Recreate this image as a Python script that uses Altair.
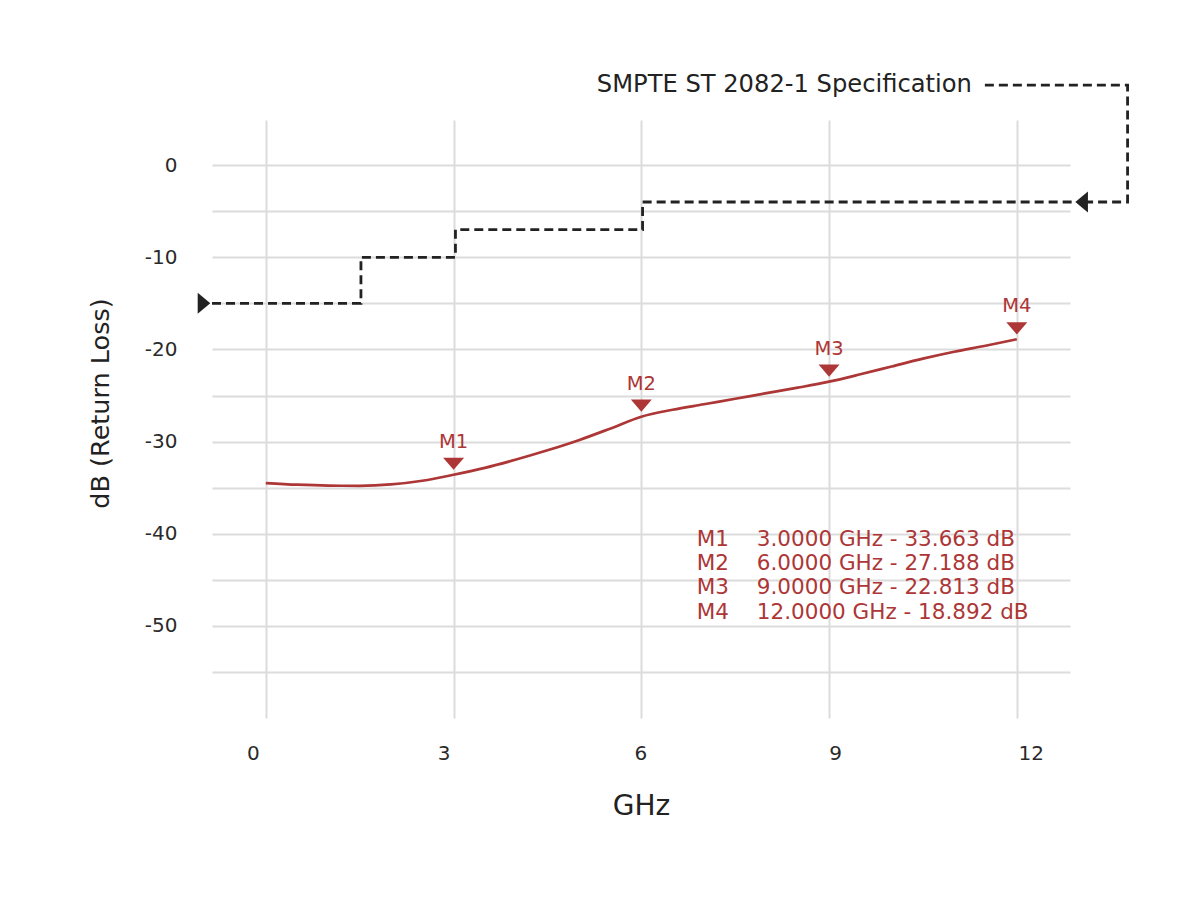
import altair as alt
import pandas as pd

RED = "#ad3636"
DARK = "#222222"

# measured return loss curve
freq_ghz = [0, 0.5, 1.0, 1.5, 2.0, 2.5, 3.0, 3.5, 4.0, 4.5, 5.0, 5.5, 6.0,
            6.5, 7.0, 7.5, 8.0, 8.5, 9.0, 9.5, 10.0, 10.5, 11.0, 11.5, 12.0]
loss_db = [-34.5, -34.68, -34.78, -34.8, -34.65, -34.25, -33.6, -32.85, -31.95,
           -30.95, -29.85, -28.6, -27.3, -26.55, -25.95, -25.35, -24.75, -24.15,
           -23.5, -22.7, -21.85, -21.0, -20.25, -19.6, -18.9]

# SMPTE ST 2082-1 mask (step-after)
spec_ghz = [-0.86, 1.52, 3.03, 6.02, 12.94]
spec_db = [-15, -10, -7, -4, -4]

# markers
marker_names = ["M1", "M2", "M3", "M4"]
marker_ghz = [3.0, 6.0, 9.0, 12.0]
marker_db = [-33.663, -27.188, -22.813, -18.892]

# callout from the label to the end of the mask
callout_ghz = [11.49, 13.77, 13.77, 13.0]
callout_db = [8.68, 8.68, -4.0, -4.0]
callout_text = "SMPTE ST 2082-1 Specification"

curve_df = pd.DataFrame({"ghz": freq_ghz, "db": loss_db})
spec_df = pd.DataFrame({"ghz": spec_ghz, "db": spec_db})
on_curve = dict(zip(freq_ghz, loss_db))
marker_df = pd.DataFrame({
    "name": marker_names,
    "ghz": marker_ghz,
    "db": [on_curve[f] for f in marker_ghz],
})
callout_df = pd.DataFrame({"ghz": callout_ghz, "db": callout_db, "i": range(len(callout_ghz))})

# the original x labels drift a little from their gridlines
x_label_shift = {
    "condition": [
        {"test": "datum.value == 0", "value": -13},
        {"test": "datum.value == 3", "value": -10},
        {"test": "datum.value == 6", "value": -1},
        {"test": "datum.value == 9", "value": 6},
        {"test": "datum.value == 12", "value": 14},
    ],
    "value": 0,
}

x_enc = alt.X(
    "ghz:Q",
    scale=alt.Scale(domain=[-0.86, 12.85], nice=False, zero=False),
    axis=alt.Axis(
        values=[0, 3, 6, 9, 12], title="GHz", labelPadding=25, tickSize=0,
        labelExpr="'' + datum.value", labelOffset=x_label_shift,
        titleX=429, titleY=88, titleBaseline="middle", titleFontSize=28,
    ),
)
y_enc = alt.Y(
    "db:Q",
    scale=alt.Scale(domain=[-60, 4.9], nice=False, zero=False),
    axis=alt.Axis(
        values=list(range(-55, 1, 5)), title="dB (Return Loss)",
        labelExpr="datum.value % 10 == 0 ? '' + datum.value : ''",
        labelPadding=35, tickSize=0,
        titleX=-112, titleY=283, titleAngle=270, titleAlign="center",
        titleBaseline="middle", titleFontSize=25.5,
    ),
)

curve = alt.Chart(curve_df).mark_line(
    color=RED, strokeWidth=2.7, interpolate="monotone"
).encode(x=x_enc, y=y_enc)

spec = alt.Chart(spec_df).mark_line(
    color=DARK, strokeWidth=2.8, strokeDash=[9, 5], interpolate="step-after"
).encode(x="ghz:Q", y="db:Q")

start_arrow = alt.Chart(spec_df.head(1)).mark_point(
    shape="M-0.6,-1L0.6,0L-0.6,1Z", filled=True, size=441, opacity=1,
    color=DARK, xOffset=-8,
).encode(x="ghz:Q", y="db:Q")

end_arrow = alt.Chart(spec_df.tail(1)).mark_point(
    shape="M0.6,-1L-0.6,0L0.6,1Z", filled=True, size=441, opacity=1,
    color=DARK, xOffset=6,
).encode(x="ghz:Q", y="db:Q")

callout = alt.Chart(callout_df).mark_line(
    color=DARK, strokeWidth=2.8, strokeDash=[9, 5]
).encode(x="ghz:Q", y="db:Q", order="i:Q")

callout_label = alt.Chart(callout_df.head(1)).mark_text(
    text=callout_text, align="right", baseline="middle", dx=-13,
    fontSize=24.2, color=DARK,
).encode(x="ghz:Q", y="db:Q")

markers = alt.Chart(marker_df).mark_point(
    shape="M-1,-0.58L1,-0.58L0,0.58Z", filled=True, size=441, opacity=1,
    color=RED, yOffset=-11,
).encode(x="ghz:Q", y="db:Q")

marker_labels = alt.Chart(marker_df).mark_text(
    dy=-33, fontSize=19.5, color=RED
).encode(x="ghz:Q", y="db:Q", text="name:N")

# readout block, bottom right (anchor is the first row)
readout_lines = [f"{g:.4f} GHz - {abs(d):.3f} dB" for g, d in zip(marker_ghz, marker_db)]
readout_anchor = pd.DataFrame({"ghz": [6.887, 7.846], "db": [-40.65, -40.65]})

readout_names = alt.Chart(readout_anchor.head(1)).mark_text(
    text=marker_names, align="left", baseline="middle", lineHeight=24.3,
    fontSize=21.5, color=RED,
).encode(x="ghz:Q", y="db:Q")

readout_values = alt.Chart(readout_anchor.tail(1)).mark_text(
    text=readout_lines, align="left", baseline="middle", lineHeight=24.3,
    fontSize=21.5, color=RED,
).encode(x="ghz:Q", y="db:Q")

chart = alt.layer(
    curve, spec, start_arrow, end_arrow, callout, callout_label,
    markers, marker_labels, readout_names, readout_values,
).properties(
    width=858,
    height=598,
    autosize=alt.AutoSizeParams(type="none"),
    padding={"left": 204, "top": 112, "right": 122, "bottom": 174},
    background="white",
).configure(
    font="DejaVu Sans",
).configure_view(
    stroke=None,
).configure_axis(
    domain=False, ticks=False, gridColor="#dcdcdc", gridWidth=2,
    labelFontSize=20, labelColor="#2a2a2a", titleColor=DARK,
    titleFontWeight="normal",
)

chart.save("out.html", embed_options={"renderer": "svg", "actions": False})
